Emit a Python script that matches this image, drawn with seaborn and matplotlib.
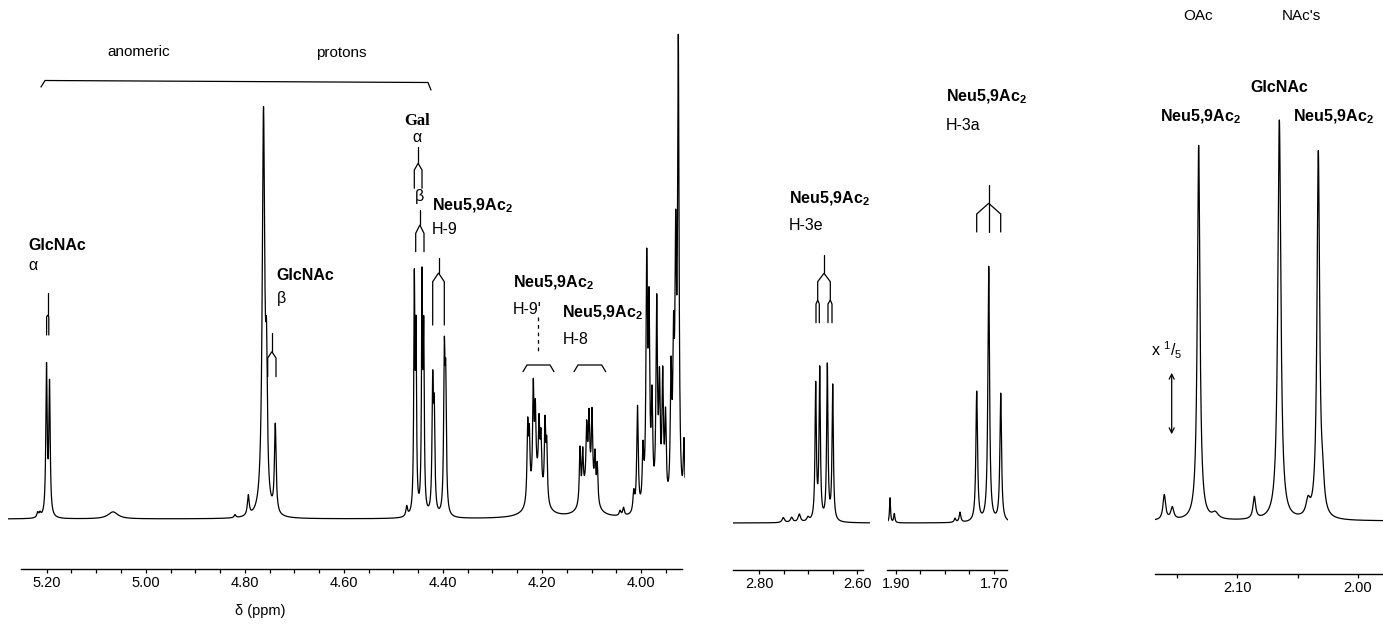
import numpy as np
import pandas as pd
import matplotlib
matplotlib.use("Agg")
import matplotlib.pyplot as plt
import seaborn as sns

# ---------------- data (peak lists) ----------------
# main panel: anomeric / H-8 / H-9 region (ppm, height in px above baseline, half-width in ppm)
MAIN_PPM = [5.2182, 5.2135, 5.2004, 5.1943, 5.0661, 4.8198, 4.7930, 4.7623, 4.7562, 4.7385,
            4.4731, 4.4578, 4.4544, 4.4422, 4.4388, 4.4207, 4.4176, 4.3972, 4.3944,
            4.2289, 4.2256, 4.2176, 4.2135, 4.2060, 4.2022, 4.1939, 4.1905, 4.2100,
            4.1233, 4.1178, 4.1098, 4.1051, 4.0990, 4.0930, 4.0884, 4.1060,
            4.0425, 4.0354, 4.0147, 4.0072, 3.9961, 3.9886, 3.9840, 3.9779, 3.9684,
            3.9628, 3.9563, 3.9506, 3.9395, 3.9345, 3.9301, 3.9248, 3.9133]
MAIN_H = [5, 4, 148, 130, 7, 3, 20, 400, 120, 88,
          10, 225, 170, 225, 170, 125, 95, 150, 120,
          75, 60, 100, 70, 60, 50, 75, 55, 32,
          55, 45, 55, 62, 75, 42, 38, 35,
          5, 8, 20, 105, 55, 235, 185, 100, 200,
          115, 125, 85, 125, 140, 235, 450, 65]
MAIN_W = [0.002, 0.002, 0.0016, 0.0016, 0.012, 0.002, 0.0022, 0.003, 0.002, 0.002,
          0.002, 0.0013, 0.0013, 0.0013, 0.0013, 0.0016, 0.0016, 0.0016, 0.0016,
          0.0016, 0.0016, 0.0016, 0.0016, 0.0016, 0.0016, 0.0016, 0.0016, 0.014,
          0.0016, 0.0016, 0.0016, 0.0016, 0.0016, 0.0016, 0.0016, 0.012,
          0.002, 0.002, 0.002, 0.0018, 0.0018, 0.0018, 0.0018, 0.0018, 0.0018,
          0.0018, 0.0018, 0.0018, 0.0018, 0.0018, 0.0018, 0.0018, 0.0018]

# H-3e panel
H3E_PPM = [2.7504, 2.7333, 2.7178, 2.7000, 2.6843, 2.6761, 2.6606, 2.6496]
H3E_H = [5, 5, 8, 4, 135, 150, 155, 135]
H3E_W = [0.003, 0.003, 0.003, 0.003, 0.0016, 0.0016, 0.0016, 0.0016]

# H-3a panel
H3A_PPM = [1.9122, 1.9035, 1.7796, 1.7694, 1.7353, 1.7108, 1.6863]
H3A_H = [25, 9, 4, 10, 130, 255, 128]
H3A_W = [0.0012, 0.0015, 0.002, 0.002, 0.002, 0.002, 0.002]

# acetyl panel (x 1/5)
AC_PPM = [2.1601, 2.1535, 2.1180, 2.1317, 2.0857, 2.0650, 2.0413, 2.0328, 2.0292]
AC_H = [25, 12, 6, 375, 22, 400, 15, 365, 25]
AC_W = [0.0013, 0.0015, 0.003, 0.0013, 0.0013, 0.0015, 0.002, 0.0013, 0.0015]

MAIN_TICKS = [5.20, 5.00, 4.80, 4.60, 4.40, 4.20, 4.00]
MAIN_MINOR = [5.15, 5.10, 5.05, 4.95, 4.90, 4.85, 4.75, 4.70, 4.65, 4.55, 4.50, 4.45,
              4.35, 4.30, 4.25, 4.15, 4.10, 4.05, 3.95]
H3E_TICKS = [2.80, 2.60]
H3E_MINOR = [2.75, 2.70, 2.65]
H3A_TICKS = [1.90, 1.70]
H3A_MINOR = [1.85, 1.80, 1.75]
AC_TICKS = [2.10, 2.00]
AC_MINOR = [2.15, 2.05]

# ---------------- style ----------------
sns.set_style("white")
plt.rcParams["font.family"] = ["Liberation Sans", "DejaVu Sans"]
plt.rcParams["mathtext.fontset"] = "custom"
plt.rcParams["mathtext.rm"] = "Liberation Sans"
plt.rcParams["mathtext.it"] = "Liberation Sans:italic"
plt.rcParams["mathtext.bf"] = "Liberation Sans:bold"
plt.rcParams["text.color"] = "black"
plt.rcParams["xtick.color"] = "black"
plt.rcParams["xtick.labelcolor"] = "black"

W, H = 1383, 624
fig = plt.figure(figsize=(W / 100, H / 100), dpi=100)
fig.patch.set_facecolor("white")


def lorentz_sum(grid, ppm, h, w):
    y = np.zeros_like(grid)
    for c, a, g in zip(ppm, h, w):
        y += a / (1.0 + ((grid - c) / g) ** 2)
    return y


def panel(x0, x1, axis_y, base_y, lim, ppm, h, w, ticks, minor, bounds):
    ax = fig.add_axes([x0 / W, (H - axis_y) / H, (x1 - x0) / W, axis_y / H])
    grid = np.linspace(lim[0], lim[1], 14000)
    df = pd.DataFrame({"ppm": grid, "I": lorentz_sum(grid, ppm, h, w)})
    sns.lineplot(data=df, x="ppm", y="I", ax=ax, color="black", lw=0.9,
                 estimator=None, sort=False)
    ax.set_xlim(lim)
    ax.set_ylim(-(axis_y - base_y), base_y)
    ax.set_facecolor("none")
    for s in ["left", "right", "top"]:
        ax.spines[s].set_visible(False)
    ax.spines["bottom"].set_bounds(bounds[0], bounds[1])
    ax.spines["bottom"].set_linewidth(1.0)
    ax.spines["bottom"].set_color("black")
    ax.set_yticks([])
    ax.set_xticks(ticks)
    ax.set_xticklabels(["%.2f" % t for t in ticks])
    ax.set_xticks(minor, minor=True)
    ax.tick_params(axis="x", which="both", direction="out", length=3.2, width=0.9,
                   color="black", labelcolor="black", pad=2.0, labelsize=10.5, bottom=True)
    ax.set_xlabel("")
    ax.set_ylabel("")
    return ax


def px2ppm(x, x_ref, p_ref, scale):
    return p_ref - (x - x_ref) / scale


# main panel: 5.20 at x=46.7, 495.3 px/ppm
panel(8, 685, 569, 519, (px2ppm(8, 46.7, 5.20, 495.3), px2ppm(685, 46.7, 5.20, 495.3)),
      MAIN_PPM, MAIN_H, MAIN_W, MAIN_TICKS, MAIN_MINOR,
      (px2ppm(21, 46.7, 5.20, 495.3), px2ppm(682, 46.7, 5.20, 495.3)))
# H-3e: 2.80 at x=759, 490 px/ppm
panel(733, 870, 570, 523, (px2ppm(733, 759, 2.80, 490), px2ppm(870, 759, 2.80, 490)),
      H3E_PPM, H3E_H, H3E_W, H3E_TICKS, H3E_MINOR,
      (px2ppm(733, 759, 2.80, 490), px2ppm(863, 759, 2.80, 490)))
# H-3a: 1.90 at x=896, 490 px/ppm
panel(888, 1008, 570, 523, (px2ppm(888, 896, 1.90, 490), px2ppm(1008, 896, 1.90, 490)),
      H3A_PPM, H3A_H, H3A_W, H3A_TICKS, H3A_MINOR,
      (px2ppm(887, 896, 1.90, 490), px2ppm(1007, 896, 1.90, 490)))
# acetyl: 2.10 at x=1237, 1210 px/ppm
panel(1155, 1383, 574, 521, (px2ppm(1155, 1237, 2.10, 1210), px2ppm(1383, 1237, 2.10, 1210)),
      AC_PPM, AC_H, AC_W, AC_TICKS, AC_MINOR,
      (px2ppm(1155, 1237, 2.10, 1210), px2ppm(1383, 1237, 2.10, 1210)))

# ---------------- annotation overlay (pixel coordinates) ----------------
ov = fig.add_axes([0, 0, 1, 1], zorder=5)
ov.set_xlim(0, W)
ov.set_ylim(H, 0)
ov.axis("off")
ov.patch.set_alpha(0)

LW = 0.9
NEU = r"Neu5,9Ac$_\mathbf{2}$"


def T(x, y, s, bold=False, ha="left", size=11.5, family=None):
    kw = dict(ha=ha, va="center", fontsize=size, color="black",
              fontweight="bold" if bold else "normal")
    if family:
        kw["family"] = family
    ov.text(x, y, s, **kw)


def L(pts, **kw):
    xs, ys = zip(*pts)
    ov.plot(xs, ys, color="black", lw=LW, solid_joinstyle="miter", **kw)


def tree(xs, top, join, branch, bottom):
    xc = sum(xs) / len(xs)
    L([(xc, top), (xc, join)])
    L([(xs[0], bottom), (xs[0], branch), (xc, join), (xs[1], branch), (xs[1], bottom)])


# bracket over anomeric region
L([(41, 87), (45, 80.5), (428, 82.5), (431, 90)])
T(138.5, 52, "anomeric", ha="center", size=11)
T(341, 53, "protons", ha="center", size=11)

# GlcNAc alpha
T(28, 245, "GlcNAc", bold=True)
T(28, 266, "\u03b1")
tree((46.6, 48.8), 292.7, 315, 317, 335)

# GlcNAc beta
T(276, 276, "GlcNAc", bold=True)
T(277, 298, "\u03b2")
tree((267.7, 276.0), 333.3, 351.7, 358, 376.7)

# Gal
T(417, 121, "Gal", bold=True, ha="center", size=12, family=["Liberation Serif", "DejaVu Serif"])
T(417, 138, "\u03b1", ha="center")
tree((414.3, 422.0), 146.7, 163.3, 170, 188.3)
T(419.5, 197, "\u03b2", ha="center")
tree((415.7, 424.0), 210, 225, 233.3, 251.7)

# H-9
T(431.5, 206, NEU, bold=True)
T(431.5, 230, "H-9")
tree((432.7, 444.3), 258, 273, 281.7, 325)

# H-9'
T(513, 283, NEU, bold=True)
T(513, 310, "H-9'")
ov.plot([538.3, 538.3], [316.7, 353], color="black", lw=LW, ls=(0, (3, 3)))
L([(523, 371.7), (527, 365), (550, 365), (554, 371.7)])

# H-8
T(562.5, 313, NEU, bold=True)
T(562.5, 339, "H-8")
L([(574, 371.7), (578, 365), (601.7, 365), (605.7, 371.7)])

# axis title
T(260, 611, "\u03b4 (ppm)", ha="center", size=10.5)

# H-3e
T(789, 199, NEU, bold=True)
T(789, 226, "H-3e")
tree((817.7, 830.3), 255, 273.3, 281.7, 300)
L([(816, 322.7), (816, 304), (817.7, 300), (819.3, 304), (819.3, 322.7)])
L([(828, 322.7), (828, 304), (830.3, 300), (832, 304), (832, 322.7)])

# H-3a
T(946, 97, NEU, bold=True)
T(946, 125, "H-3a")
L([(988.7, 185), (988.7, 232)])
L([(976.7, 232), (976.7, 214), (988.7, 203.3), (1000.7, 214), (1000.7, 232)])

# acetyl region
T(1198, 16, "OAc", ha="center", size=11)
T(1301, 16, "NAc's", ha="center", size=11)
T(1279, 88, "GlcNAc", bold=True, ha="center")
T(1200, 117, NEU, bold=True, ha="center")
T(1333, 117, NEU, bold=True, ha="center")
T(1151, 350, r"x $^{1}$/$_{5}$", size=11.5)
ov.annotate("", xy=(1171.7, 370), xytext=(1171.7, 437),
            arrowprops=dict(arrowstyle="<->", lw=LW, color="black", mutation_scale=9))

fig.savefig("out.png", dpi=100, facecolor="white")
